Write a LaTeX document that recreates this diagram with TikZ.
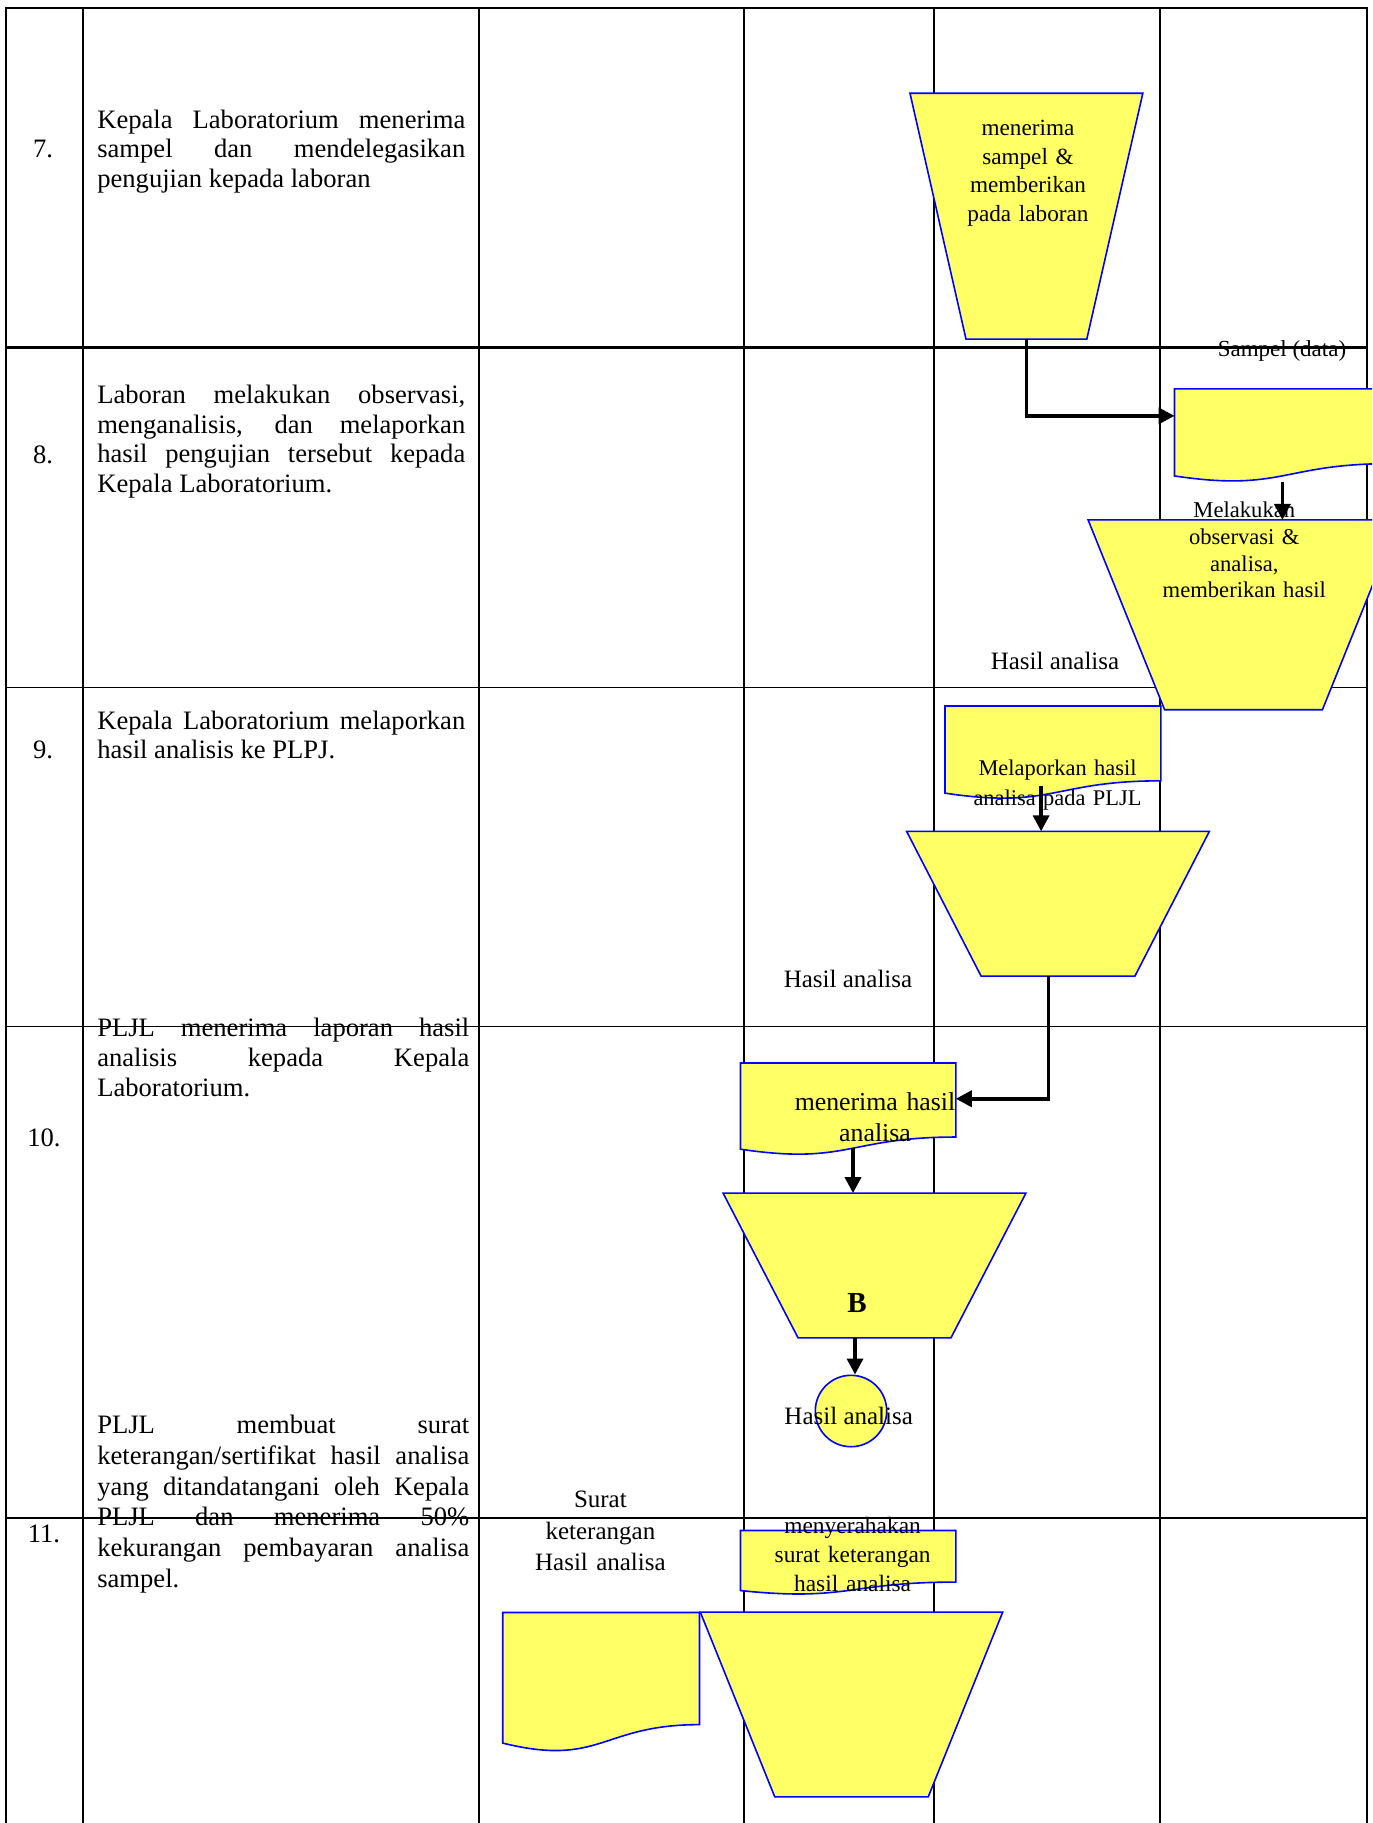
\documentclass[tikz,border=0pt]{standalone}
\usepackage{fontspec}
\setmainfont{Liberation Serif}
\usetikzlibrary{arrows.meta,calc}
\definecolor{Lemon}{HTML}{FFFF66}
\definecolor{Royal}{HTML}{0000FF}
\hyphenpenalty=10000
\exhyphenpenalty=10000
\tolerance=10000
\newcommand{\fs}[2]{\fontsize{#1}{#2}\selectfont}
% wavy outline of a document box, drawn on the box node #1
\newcommand{\docwave}[1]{%
  \path[docline] (#1.north west) -- (#1.north east)
    -- ($(#1.north east)!0.802!(#1.south east)$)
    .. controls ($(#1.north)!0.802!(#1.south)$) and ($(#1.north)!1.1075!(#1.south)$)
    .. ($(#1.north west)!0.934!(#1.south west)$) -- cycle;}
% inverted trapezoid on the box node #1, bottom corners pulled in by #2
\newcommand{\trapface}[2]{%
  \path[docline] (#1.north west) -- (#1.north east)
    -- ($(#1.south east)+(-#2,0)$) -- ($(#1.south west)+(#2,0)$) -- cycle;}

\begin{document}
\begin{tikzpicture}[
  x=0.5pt,y=-0.5pt,
  every node/.style={font=\fs{13.3}{14.75}},
  trapbox/.style={rectangle,draw=none,inner sep=0pt},
  docbox/.style={rectangle,draw=none,inner sep=0pt,anchor=north west},
  docline/.style={draw=Royal,fill=Lemon,line width=0.8pt},
  lbl/.style={anchor=base,inner sep=0pt,align=center},
  desc/.style={anchor=base west,inner sep=0pt,align=justify,text width=184pt},
  num/.style={anchor=base,inner sep=0pt},
  arr/.style={-{Triangle[length=8pt,width=8pt]},line width=1.8pt,black}
]
\useasboundingbox (0,0) rectangle (1372,1823);
\clip (0,0) rectangle (1372,1823);

% table
\foreach \gx in {6,82.6,479,744,934,1160,1367}
  \draw[line width=1pt] (\gx,8) -- (\gx,1830);
\draw[line width=1.3pt] (5,8) -- (1368,8);
\draw[line width=1.3pt] (5,347.5) -- (1368,347.5);
\draw[line width=0.9pt] (5,687.5) -- (1368,687.5);
\draw[line width=0.7pt] (5,1026.6) -- (1368,1026.6);
\draw[line width=0.7pt] (5,1518) -- (1368,1518);

% flow shapes
\node[trapbox,minimum width=116pt,minimum height=122.5pt] (terima) at (1026.4,216.2) {};
\trapface{terima}{56}
\node[docbox,minimum width=107.5pt,minimum height=46.2pt] (sampel) at (1174.5,388.9) {};
\docwave{sampel}
\node[trapbox,minimum width=155pt,minimum height=94.5pt] (observasi) at (1243.5,614.8) {};
\trapface{observasi}{76.5}
\node[docbox,minimum width=107.5pt,minimum height=46.25pt] (lapor) at (945,706) {};
\docwave{lapor}
\node[trapbox,minimum width=151pt,minimum height=72pt] (kirim) at (1058,903.7) {};
\trapface{kirim}{74.5}
\node[docbox,minimum width=107.25pt,minimum height=45.75pt] (hasil) at (740.5,1063) {};
\docwave{hasil}
\node[trapbox,minimum width=151pt,minimum height=72pt] (bB) at (874.5,1265.5) {};
\trapface{bB}{75}
\node[circle,draw=Royal,fill=Lemon,line width=0.8pt,minimum size=35.7pt,inner sep=0pt] (conB) at (851,1411) {};
\node[docbox,minimum width=107.25pt,minimum height=31.75pt] (serah) at (740.5,1530.5) {};
\docwave{serah}
\node[docbox,minimum width=98pt,minimum height=69.5pt] (surat) at (502.7,1612.5) {};
\docwave{surat}
\node[trapbox,minimum width=150.8pt,minimum height=92pt] (akhir) at (851.5,1704.5) {};
\trapface{akhir}{74.5}

% shape texts
\node[lbl,text width=80pt,font=\fs{11.6}{14.4}] (tTerima) at (1028,135.4) {menerima\\sampel \&\\memberikan\\pada laboran};
\node[lbl,font=\fs{11.5}{14}] (tSampel) at (1282,356.7) {Sampel (data)};
\node[lbl,text width=100pt,font=\fs{11.3}{13.4}] (tObs) at (1244.3,517.4) {Melakukan\\observasi \&\\analisa,\\memberikan hasil};
\node[lbl,font=\fs{12.5}{15}] (tHasil1) at (1055,669) {Hasil analisa};
\node[lbl,text width=100pt,font=\fs{11.2}{15}] (tLapor) at (1057.5,775) {Melaporkan hasil\\analisa pada PLJL};
\node[lbl,font=\fs{12.5}{15}] (tHasil2) at (848,987) {Hasil analisa};
\node[lbl,text width=100pt,font=\fs{12.9}{15.85}] (tTerimaHasil) at (875,1110) {menerima hasil\\analisa};
\node[lbl,font=\bfseries\fs{14.5}{17}] (tB) at (857,1312) {B};
\node[lbl,font=\fs{12.5}{15}] (tHasil3) at (848.7,1424.6) {Hasil analisa};
\node[lbl,text width=90pt,font=\fs{12.5}{15.75}] (tSurat) at (600.4,1507.5) {Surat\\keterangan\\Hasil analisa};
\node[lbl,text width=100pt,font=\fs{11.7}{14.35}] (tSerah) at (852.6,1533.7) {menyerahakan\\surat keterangan\\hasil analisa};

% step numbers and descriptions
\node[num] (n7) at (43,157.5) {7.};
\node[num] (n8) at (43,464) {8.};
\node[num] (n9) at (43,758) {9.};
\node[num] (n10) at (44,1146) {10.};
\node[num] (n11) at (44,1542) {11.};
\node[desc] (d7) at (96.9,128.1) {Kepala Laboratorium menerima\linebreak sampel dan mendelegasikan\linebreak pengujian kepada laboran};
\node[desc] (d8) at (96.9,404) {Laboran melakukan observasi,\linebreak menganalisis, dan melaporkan\linebreak hasil pengujian tersebut kepada\linebreak Kepala Laboratorium.};
\node[desc] (d9) at (96.9,729) {Kepala Laboratorium melaporkan\linebreak hasil analisis ke PLPJ.};
\node[desc,text width=186pt,font=\fs{13.3}{15}] (d10) at (96.9,1036.7) {PLJL menerima laporan hasil\linebreak analisis kepada Kepala\linebreak Laboratorium.};
\node[desc,text width=186pt,font=\fs{13.3}{15.35}] (d11) at (96.9,1433.8) {PLJL membuat surat\linebreak keterangan/sertifikat hasil analisa\linebreak yang ditandatangani oleh Kepala\linebreak PLJL dan menerima 50\%\linebreak kekurangan pembayaran analisa\linebreak sampel.};

% connectors
\coordinate (a3) at ($(lapor.south)+(-11.8,-13.5)$);
\coordinate (a5) at ($(hasil.south)+(4.85,-7.5)$);
\coordinate (a6) at ($(conB.north)+(4,0)$);
\draw[arr] (terima.south) |- ([yshift=9.8pt]sampel.west);
\draw[arr] (sampel.south) -- (sampel.south |- observasi.north);
\draw[arr] (a3) -- (a3 |- kirim.north);
\draw[arr] ([xshift=-4.75pt]kirim.south) |- ([yshift=5.2pt]hasil.east);
\draw[arr] (a5) -- (a5 |- bB.north);
\draw[arr] (a6 |- bB.south) -- (a6);
\end{tikzpicture}
\end{document}
